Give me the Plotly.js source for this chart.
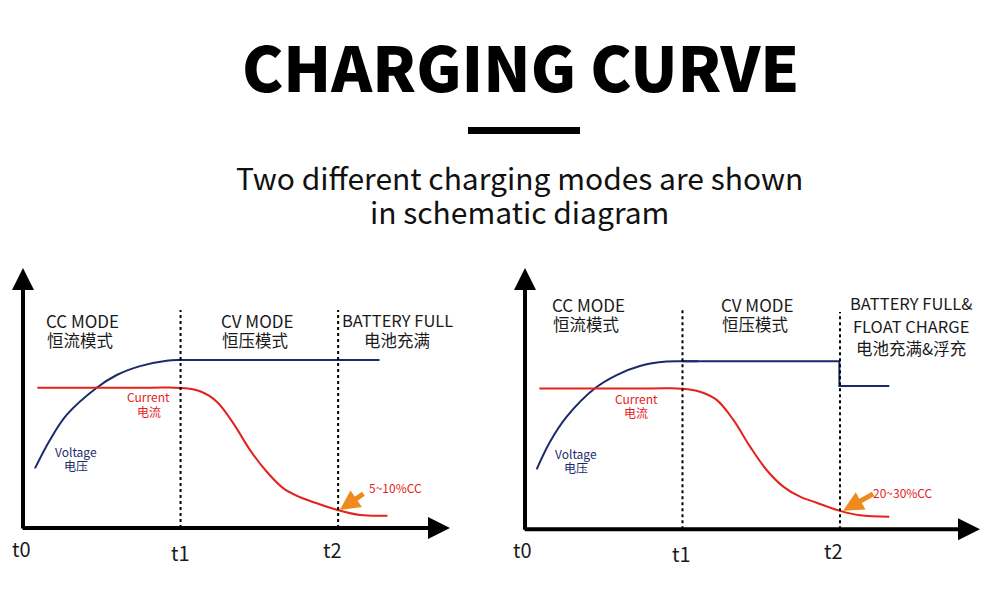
<!DOCTYPE html>
<html><head><meta charset="utf-8">
<script src="https://cdn.plot.ly/plotly-3.0.1.min.js"></script>
<style>html,body{margin:0;padding:0;background:#fff}#chart{width:1000px;height:613px}</style>
</head><body><div id="chart"></div>
<script>
// Time measured in units of the t0->t1 interval (t0=0, t1=1, t2=2); values relative to the CV voltage (=1)
const tickLabels = ['t0', 't1', 't2'];
const tickTimes = [0, 1, 2];

// Left chart: CC / CV / battery full
const voltRiseTimeA = [0.076, 0.171, 0.277, 0.468, 0.595, 0.743, 0.912, 1.0, 1.1];
const voltRiseA     = [0.355, 0.524, 0.673, 0.835, 0.911, 0.964, 0.996, 1.0, 1.0];
const voltHoldTimeA = [1.0, 2.263];
const voltHoldA     = [1.0, 1.0];
const currTimeA = [0.091, 0.8, 1.0, 1.124, 1.230, 1.335, 1.441, 1.547, 1.653, 1.759, 1.865, 1.996, 2.14, 2.313];
const currA     = [0.835, 0.835, 0.834, 0.814, 0.752, 0.623, 0.464, 0.335, 0.236, 0.183, 0.147, 0.107, 0.077, 0.073];

// Right chart: CC / CV / battery full & float charge
const voltRiseTimeB = [0.074, 0.159, 0.265, 0.444, 0.582, 0.730, 0.899, 1.0, 1.1];
const voltRiseB     = [0.357, 0.521, 0.670, 0.839, 0.918, 0.972, 0.998, 1.0, 1.0];
const voltHoldTimeB = [1.0, 1.996, 1.996, 2.313];
const voltHoldB     = [1.0, 1.0, 0.853, 0.853];
const currTimeB = [0.091, 0.8, 1.0, 1.111, 1.217, 1.323, 1.429, 1.534, 1.640, 1.746, 1.852, 1.996, 2.127, 2.313];
const currB     = [0.838, 0.838, 0.837, 0.819, 0.770, 0.651, 0.492, 0.353, 0.254, 0.194, 0.158, 0.111, 0.083, 0.075];

const modeLabelsA = [['CC MODE', '恒流模式'], ['CV MODE', '恒压模式'], ['BATTERY FULL', '电池充满']];
const modeLabelsB = [['CC MODE', '恒流模式'], ['CV MODE', '恒压模式'], ['BATTERY FULL&', 'FLOAT CHARGE', '电池充满&浮充']];
const seriesLabels = {current: ['Current', '电流'], voltage: ['Voltage', '电压']};
const endCurrentA = '5~10%CC';
const endCurrentB = '20~30%CC';
const titleText = 'CHARGING CURVE';
const subtitleLines = ['Two different charging modes are shown', 'in schematic diagram'];

const NAVY = '#1b2a6b', RED = '#e3221c', ORANGE = '#ef8a1f', INK = '#1a1a1a';
const FONT = '"Noto Sans CJK SC", "Noto Sans", sans-serif';
const W = 1000, H = 613;
const px = v => v / W, py = v => 1 - v / H;

function curve(x, y, color, xa, ya, shape) {
  return {x, y, xaxis: xa, yaxis: ya, type: 'scatter', mode: 'lines',
    line: {color, width: 2, shape, smoothing: 1}, hoverinfo: 'skip', showlegend: false};
}
const data = [
  curve(voltRiseTimeA, voltRiseA, NAVY, 'x', 'y', 'spline'),
  curve(voltHoldTimeA, voltHoldA, NAVY, 'x', 'y', 'linear'),
  curve(currTimeA, currA, RED, 'x', 'y', 'spline'),
  curve(voltRiseTimeB, voltRiseB, NAVY, 'x2', 'y2', 'spline'),
  curve(voltHoldTimeB, voltHoldB, NAVY, 'x2', 'y2', 'linear'),
  curve(currTimeB, currB, RED, 'x2', 'y2', 'spline')
];

const ann = [];
function axisArrow(xr, yr, x, y, ax, ay) {
  ann.push({xref: xr, yref: yr, axref: xr, ayref: yr, x, y, ax, ay, text: '', showarrow: true,
    arrowhead: 2, arrowsize: 1.1, arrowwidth: 4, arrowcolor: '#000', standoff: 0, startstandoff: 0});
}
axisArrow('x', 'y', 2.71, 0, -0.012, 0);
axisArrow('x', 'y', 0, 1.548, 0, -0.012);
axisArrow('x2', 'y2', 2.889, 0, -0.012, 0);
axisArrow('x2', 'y2', 0, 1.555, 0, -0.012);

function txt(text, x, y, size, color, extra) {
  ann.push(Object.assign({xref: 'paper', yref: 'paper', x: px(x), y: py(y), text, showarrow: false,
    xanchor: 'center', yanchor: 'middle', font: {family: FONT, size, color}}, extra || {}));
}
// title, underline bar and subtitle
txt(titleText, 520, 65, 62, '#000', {font: {family: FONT, size: 62, color: '#000', weight: 900}});
txt(subtitleLines[0], 519, 177, 30, '#111');
txt(subtitleLines[1], 519, 211, 30, '#111');
// tick labels
txt(tickLabels[0], 21, 548, 20, INK); txt(tickLabels[1], 180, 552, 20, INK); txt(tickLabels[2], 332, 549, 20, INK);
txt(tickLabels[0], 522, 549, 20, INK); txt(tickLabels[1], 681, 553, 20, INK); txt(tickLabels[2], 833, 550, 20, INK);
// mode labels
txt(modeLabelsA[0][0], 82, 320, 17, INK); txt(modeLabelsA[0][1], 80, 340, 16.5, INK);
txt(modeLabelsA[1][0], 257, 320, 17, INK); txt(modeLabelsA[1][1], 255, 340, 16.5, INK);
txt(modeLabelsA[2][0], 397, 320, 16.5, INK); txt(modeLabelsA[2][1], 397, 340, 16.5, INK);
txt(modeLabelsB[0][0], 588, 304, 17, INK); txt(modeLabelsB[0][1], 586, 324, 16.5, INK);
txt(modeLabelsB[1][0], 757, 304, 17, INK); txt(modeLabelsB[1][1], 755, 324, 16.5, INK);
txt(modeLabelsB[2][0], 911, 303, 16.5, INK); txt(modeLabelsB[2][1], 911, 326, 16.5, INK); txt(modeLabelsB[2][2], 911, 348, 16.5, INK);
// series labels
txt(seriesLabels.current[0], 148, 397, 12, RED); txt(seriesLabels.current[1], 149, 411, 12, RED);
txt(seriesLabels.voltage[0], 76, 451, 12, NAVY); txt(seriesLabels.voltage[1], 76, 465, 12, NAVY);
txt(seriesLabels.current[0], 636, 398, 12, RED); txt(seriesLabels.current[1], 636, 412, 12, RED);
txt(seriesLabels.voltage[0], 576, 453, 12, NAVY); txt(seriesLabels.voltage[1], 576, 467, 12, NAVY);
txt(endCurrentA, 395, 487, 12, RED);
txt(endCurrentB, 903, 492, 12, RED);
// orange pointer arrows to the current at t2
ann.push({xref: 'x', yref: 'y', axref: 'x', ayref: 'y', x: tickTimes[2] + 0.01, y: currA[11], ax: 2.17, ay: 0.21,
  text: '', showarrow: true, arrowhead: 2, arrowsize: 0.8, arrowwidth: 5, arrowcolor: ORANGE, standoff: 0});
ann.push({xref: 'x2', yref: 'y2', axref: 'x2', ayref: 'y2', x: tickTimes[2] + 0.02, y: currB[11], ax: 2.22, ay: 0.216,
  text: '', showarrow: true, arrowhead: 2, arrowsize: 0.8, arrowwidth: 5, arrowcolor: ORANGE, standoff: 0});

const shapes = [
  {type: 'rect', xref: 'paper', yref: 'paper', x0: px(468), x1: px(580), y0: py(134), y1: py(127),
   fillcolor: '#000', line: {width: 0}},
  {type: 'line', xref: 'x', yref: 'y', x0: tickTimes[1], x1: tickTimes[1], y0: 0, y1: 1.298, line: {color: '#000', width: 2, dash: 'dot'}},
  {type: 'line', xref: 'x', yref: 'y', x0: tickTimes[2], x1: tickTimes[2], y0: 0, y1: 1.298, line: {color: '#000', width: 2, dash: 'dot'}},
  {type: 'line', xref: 'x2', yref: 'y2', x0: tickTimes[1], x1: tickTimes[1], y0: 0, y1: 1.305, line: {color: '#000', width: 2, dash: 'dot'}},
  {type: 'line', xref: 'x2', yref: 'y2', x0: tickTimes[2], x1: tickTimes[2], y0: 0, y1: 1.293, line: {color: '#000', width: 2, dash: 'dot'}}
];

const hidden = {visible: false, fixedrange: true};
const layout = {
  width: W, height: H, margin: {l: 0, r: 0, t: 0, b: 0},
  paper_bgcolor: '#fff', plot_bgcolor: 'rgba(0,0,0,0)', showlegend: false,
  xaxis: Object.assign({domain: [px(23), px(450)], range: [0, 2.71], anchor: 'y'}, hidden),
  yaxis: Object.assign({domain: [1 - 528 / H, py(268)], range: [0, 1.548], anchor: 'x'}, hidden),
  xaxis2: Object.assign({domain: [px(525), px(980)], range: [0, 2.889], anchor: 'y2'}, hidden),
  yaxis2: Object.assign({domain: [1 - 529.3 / H, py(268)], range: [0, 1.555], anchor: 'x2'}, hidden),
  annotations: ann, shapes
};
Plotly.newPlot('chart', data, layout, {displayModeBar: false, staticPlot: true});
</script></body></html>
